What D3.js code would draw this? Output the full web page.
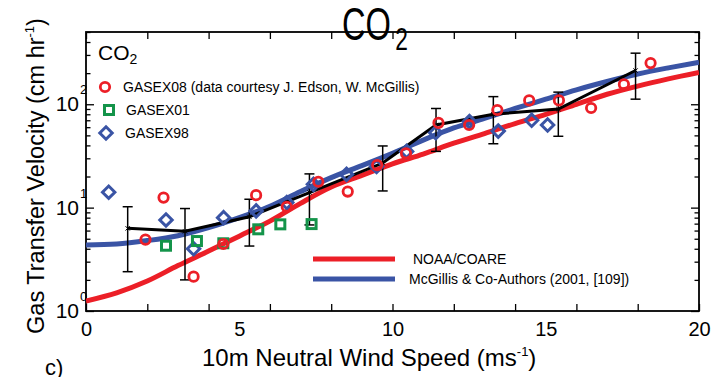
<!DOCTYPE html>
<html>
<head>
<meta charset="utf-8">
<title>CO2 Gas Transfer Velocity</title>
<style>
  body { margin: 0; background: #fff; }
  svg { font-family: "Liberation Sans", Arial, sans-serif; }
</style>
</head>
<body>
<svg id="chart"></svg>
<script src="https://d3js.org/d3.v7.min.js"></script>
<script>
// model curves, read at whole m/s
const curveWind = [0, 1, 2, 3, 4, 5, 6, 7, 8, 9, 10, 11, 12, 13, 14, 15, 16, 17, 18, 19, 20];
const noaaK = [1.25, 1.5, 1.95, 2.75, 3.8, 5.3, 7.4, 11.0, 15.8, 20.5, 26.5, 33, 42, 52, 65, 80, 100, 125, 150, 176, 203];
const mcgillisK = [4.35, 4.45, 4.8, 5.35, 6.4, 8.0, 10.3, 14.3, 19.5, 25.5, 33.5, 45, 59, 73, 91, 112, 138, 166, 196, 225, 255];

// field campaigns
const gasex08Wind = [1.94, 2.53, 3.51, 4.48, 5.55, 6.55, 7.58, 8.54, 9.5, 10.44, 11.5, 12.5, 13.42, 14.46, 15.43, 16.48, 17.55, 18.42];
const gasex08K = [4.9, 12.5, 2.15, 4.45, 13.2, 10.2, 17.8, 14.3, 25.8, 33.5, 66, 63, 88, 109, 109, 92, 156, 250];
const gasex01Wind = [2.61, 3.62, 4.48, 5.62, 6.34, 7.36];
const gasex01K = [4.28, 4.75, 4.52, 6.17, 6.89, 6.93];
const gasex98Wind = [0.74, 2.61, 3.51, 4.49, 5.55, 6.55, 7.42, 8.5, 9.48, 10.46, 11.41, 12.51, 13.45, 14.54, 15.06];
const gasex98K = [14.1, 7.6, 4.0, 8.0, 9.3, 11.2, 16.8, 21, 25, 35, 53, 68, 55, 70, 63];

// bin averages with +/- sd
const binWind = [1.36, 3.23, 5.33, 7.29, 9.68, 11.42, 13.29, 15.41, 17.93];
const binMean = [6.3, 5.9, 8.15, 14.0, 27, 63, 80, 90, 212];
const binSd = [3.9, 3.9, 3.9, 7.2, 12.5, 28, 38.5, 41, 100];

// ticks
const xTicks = [0, 2, 4, 6, 8, 10, 12, 14, 16, 18, 20];
const xLabels = [0, 5, 10, 15, 20];
const yMajor = [1, 10, 100];
const yMinor = [2, 3, 4, 5, 6, 7, 8, 9, 20, 30, 40, 50, 60, 70, 80, 90, 200, 300, 400, 500];

const RED = '#ec1f27', BLUE = '#3a54a5', GREEN = '#14944a';

const width = 714, height = 377;
const svg = d3.select('#chart').attr('width', width).attr('height', height);

const x = d3.scaleLinear().domain([0, 20]).range([86, 699]);
const y = d3.scaleLog().domain([1, 500]).range([311, 32]);

svg.append('defs').append('clipPath').attr('id', 'plot')
  .append('rect').attr('x', 86).attr('y', 32).attr('width', 613).attr('height', 279);

// axes: inward ticks on all four sides
function axisStyle(g) {
  g.select('.domain').remove();
  g.selectAll('.tick line').attr('stroke', '#000').attr('stroke-width', 1.3);
}
svg.append('g').attr('transform', 'translate(0,311)')
  .call(d3.axisBottom(x).tickValues(xTicks).tickSize(-7).tickFormat(''))
  .call(axisStyle);
svg.append('g').attr('transform', 'translate(0,32)')
  .call(d3.axisTop(x).tickValues(xTicks).tickSize(-7).tickFormat(''))
  .call(axisStyle);
svg.append('g').attr('transform', 'translate(0,311)')
  .call(d3.axisBottom(x).tickValues(xLabels).tickSize(0).tickPadding(11))
  .call(g => {
    g.select('.domain').remove();
    g.selectAll('text').attr('font-size', 20).attr('fill', '#000')
      .attr('font-family', '"Liberation Sans", Arial, sans-serif');
  });

[[d3.axisLeft, 86, -1], [d3.axisRight, 699, 1]].forEach(([ax, px]) => {
  svg.append('g').attr('transform', `translate(${px},0)`)
    .call(ax(y).tickValues(yMajor).tickSize(-8).tickFormat(''))
    .call(axisStyle);
  svg.append('g').attr('transform', `translate(${px},0)`)
    .call(ax(y).tickValues(yMinor).tickSize(-4.5).tickFormat(''))
    .call(axisStyle);
});

// y labels 10^n
yMajor.forEach(v => {
  const t = svg.append('text').attr('x', 79).attr('y', y(v) + 7)
    .attr('text-anchor', 'end').attr('font-size', 21).text('10');
  svg.append('text').attr('x', 80).attr('y', y(v) - 10)
    .attr('font-size', 13).text(Math.round(Math.log10(v)));
});

svg.append('rect').attr('x', 86).attr('y', 32).attr('width', 613).attr('height', 279)
  .attr('fill', 'none').attr('stroke', '#000').attr('stroke-width', 1.8);

// model curves
const plot = svg.append('g').attr('clip-path', 'url(#plot)');
const smooth = d3.line().curve(d3.curveMonotoneX);
plot.append('path')
  .attr('d', smooth(curveWind.map((w, i) => [x(w), y(noaaK[i])])))
  .attr('fill', 'none').attr('stroke', RED).attr('stroke-width', 5);
plot.append('path')
  .attr('d', smooth(curveWind.map((w, i) => [x(w), y(mcgillisK[i])])))
  .attr('fill', 'none').attr('stroke', BLUE).attr('stroke-width', 5);

// bin means + error bars
const bins = binWind.map((w, i) => ({ w, m: binMean[i], s: binSd[i] }));
plot.append('path')
  .attr('d', d3.line()(bins.map(d => [x(d.w), y(d.m)])))
  .attr('fill', 'none').attr('stroke', '#000').attr('stroke-width', 3);
const eb = plot.selectAll('g.eb').data(bins).join('g').attr('class', 'eb')
  .attr('stroke', '#000').attr('stroke-width', 1.5);
eb.append('line').attr('x1', d => x(d.w)).attr('x2', d => x(d.w))
  .attr('y1', d => y(d.m + d.s)).attr('y2', d => y(d.m - d.s));
eb.append('line').attr('x1', d => x(d.w) - 5).attr('x2', d => x(d.w) + 5)
  .attr('y1', d => y(d.m + d.s)).attr('y2', d => y(d.m + d.s));
eb.append('line').attr('x1', d => x(d.w) - 5).attr('x2', d => x(d.w) + 5)
  .attr('y1', d => y(d.m - d.s)).attr('y2', d => y(d.m - d.s));
eb.append('path').attr('d', d3.symbol(d3.symbolX, 14)())
  .attr('transform', d => `translate(${x(d.w)},${y(d.m)})`).attr('stroke-width', 1);

// campaign markers
const diamond = d3.symbol(d3.symbolDiamond2, 98)();
plot.selectAll('path.g98').data(gasex98Wind).join('path').attr('class', 'g98')
  .attr('d', diamond)
  .attr('transform', (w, i) => `translate(${x(w)},${y(gasex98K[i])})`)
  .attr('fill', 'none').attr('stroke', BLUE).attr('stroke-width', 3);
plot.selectAll('rect.g01').data(gasex01Wind).join('rect').attr('class', 'g01')
  .attr('x', w => x(w) - 4.5).attr('y', (w, i) => y(gasex01K[i]) - 4.5)
  .attr('width', 9).attr('height', 9)
  .attr('fill', 'none').attr('stroke', GREEN).attr('stroke-width', 3);
plot.selectAll('circle.g08').data(gasex08Wind).join('circle').attr('class', 'g08')
  .attr('cx', w => x(w)).attr('cy', (w, i) => y(gasex08K[i])).attr('r', 4.7)
  .attr('fill', 'none').attr('stroke', RED).attr('stroke-width', 2.8);

// top-left legend
const co = svg.append('text').attr('x', 98).attr('y', 60).attr('font-size', 21);
co.append('tspan').text('CO');
co.append('tspan').attr('font-size', 14).attr('dy', 4).text('2');

svg.append('circle').attr('cx', 105).attr('cy', 87).attr('r', 4.7)
  .attr('fill', 'none').attr('stroke', RED).attr('stroke-width', 2.8);
svg.append('rect').attr('x', 104.5).attr('y', 105.5).attr('width', 9).attr('height', 9)
  .attr('fill', 'none').attr('stroke', GREEN).attr('stroke-width', 3);
svg.append('path').attr('d', diamond).attr('transform', 'translate(106,133)')
  .attr('fill', 'none').attr('stroke', BLUE).attr('stroke-width', 3);
svg.append('text').attr('x', 123).attr('y', 92).attr('font-size', 14)
  .text('GASEX08 (data courtesy J. Edson, W. McGillis)');
svg.append('text').attr('x', 126).attr('y', 115).attr('font-size', 14).text('GASEX01');
svg.append('text').attr('x', 125).attr('y', 138).attr('font-size', 14).text('GASEX98');

// bottom-right legend
svg.append('line').attr('x1', 313).attr('x2', 395).attr('y1', 259).attr('y2', 259)
  .attr('stroke', RED).attr('stroke-width', 5);
svg.append('line').attr('x1', 313).attr('x2', 395).attr('y1', 279).attr('y2', 279)
  .attr('stroke', BLUE).attr('stroke-width', 5);
svg.append('text').attr('x', 413).attr('y', 264).attr('font-size', 14).text('NOAA/COARE');
svg.append('text').attr('x', 409).attr('y', 284).attr('font-size', 14)
  .text('McGillis & Co-Authors (2001, [109])');

// axis titles
const xt = svg.append('text').attr('x', 202).attr('y', 366).attr('font-size', 24);
xt.append('tspan').text('10m Neutral Wind Speed (ms');
xt.append('tspan').attr('font-size', 13).attr('dy', -10).text('-1');
xt.append('tspan').attr('dy', 10).text(')');

const yt = svg.append('text').attr('transform', 'translate(44,176) rotate(-90)')
  .attr('text-anchor', 'middle').attr('font-size', 23.5);
yt.append('tspan').text('Gas Transfer Velocity (cm hr');
yt.append('tspan').attr('font-size', 13).attr('dy', -10).text('-1');
yt.append('tspan').attr('dy', 10).text(')');

// panel title
const title = svg.append('text').attr('transform', 'translate(342,40) scale(0.71,1)')
  .attr('font-size', 46);
title.append('tspan').text('CO');
title.append('tspan').attr('font-size', 32).attr('dy', 10).attr('dx', 6).text('2');

svg.append('text').attr('x', 45).attr('y', 375).attr('font-size', 22).text('c)');
</script>
</body>
</html>
